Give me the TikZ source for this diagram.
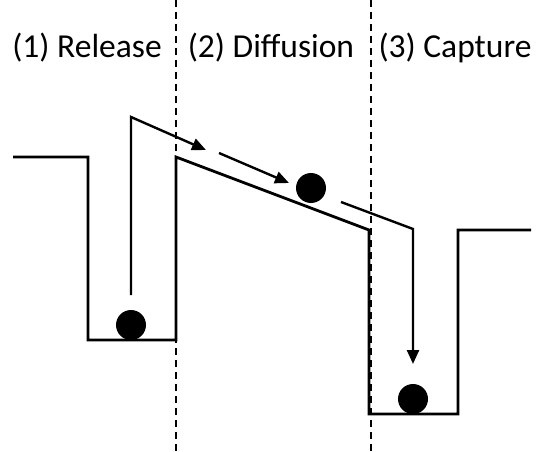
\documentclass[tikz,border=0pt]{standalone}
\usepackage{fontspec}
\setmainfont{Carlito}
\usetikzlibrary{arrows.meta}
\begin{document}
\begin{tikzpicture}[x=1pt,y=-1pt,
  profile/.style={line width=2.8pt,line join=miter},
  divider/.style={line width=2pt,dash pattern=on 7pt off 5pt},
  path arrow/.style={line width=2.4pt,-{Triangle[length=14pt,width=12pt]}},
  ball/.style={circle,fill=black,inner sep=0pt,minimum size=30pt},
  label/.style={font=\fontsize{33.5}{36}\selectfont,anchor=base,inner sep=0pt}]
\useasboundingbox (0,0) rectangle (539,452);
% dividers
\coordinate (d1t) at (176,0); \coordinate (d1b) at (176,452);
\coordinate (d2t) at (371,0); \coordinate (d2b) at (371,452);
\draw[divider] (d1t) -- (d1b);
\draw[divider] (d2t) -- (d2b);
% labels
\node[label] (l1) at (87,58) {(1) Release};
\node[label] (l2) at (271,58) {(2) Diffusion};
\node[label] (l3) at (455,58) {(3) Capture};
% potential profile
\coordinate (p1) at (13,157);
\coordinate (p2) at (88,157);
\coordinate (p3) at (88,340);
\coordinate (p4) at (176,340);
\coordinate (p5) at (176,157);
\coordinate (p6) at (369,230);
\coordinate (p7) at (369,414);
\coordinate (p8) at (458,414);
\coordinate (p9) at (458,230);
\coordinate (p10) at (531,230);
\draw[profile] (p1) -- (p2) -- (p3) -- (p4) -- (p5) -- (p6) -- (p7) -- (p8) -- (p9) -- (p10);
% balls
\node[ball] (b1) at (131,325) {};
\node[ball] (b2) at (311,188) {};
\node[ball] (b3) at (413,399) {};
% trajectory
\coordinate (a0) at (131,295);
\coordinate (a1) at (131,117);
\coordinate (a2) at (206,150);
\coordinate (a3) at (219,153);
\coordinate (a4) at (289,183);
\coordinate (a5) at (341,202);
\coordinate (a6) at (413,229);
\coordinate (a7) at (413,364);
\draw[path arrow,line join=miter] (a0) -- (a1) -- (a2);
\draw[path arrow] (a3) -- (a4);
\draw[path arrow,line join=miter] (a5) -- (a6) -- (a7);
\end{tikzpicture}
\end{document}
